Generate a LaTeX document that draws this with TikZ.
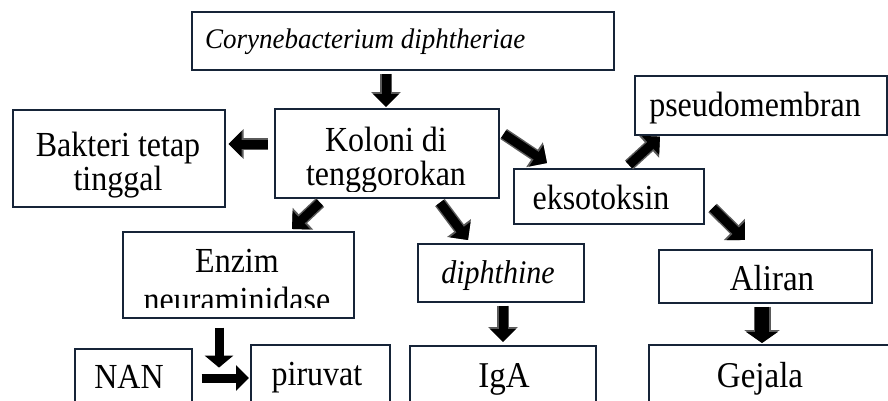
\documentclass[tikz,border=0pt]{standalone}
\usepackage{fontspec}
\usepackage{graphicx}
\setmainfont{Liberation Serif}
\usetikzlibrary{arrows.meta,calc}
\definecolor{boxcol}{RGB}{22,36,56}
\definecolor{arrowgray}{RGB}{90,90,90}
\newcommand\blockarr[2]{%
  \draw[gshaft] #1 -- #2;
  \draw[bshaft] #1 -- #2;}
\newcommand\vs[1]{\scalebox{1}[1.1]{#1}}
\newcommand\twolines[3]{\vs{\fontsize{32}{#3}\selectfont\begin{tabular}[t]{@{}c@{}}#1\\#2\end{tabular}}}
\begin{document}
\begin{tikzpicture}[x=1pt,y=-1pt,
  box/.style={draw=boxcol, line width=1.6pt, fill=none, inner sep=0pt, anchor=north west},
  txt/.style={font=\fontsize{32}{36}\selectfont, inner sep=0pt, anchor=base},
  gshaft/.style={draw=arrowgray, line width=12pt, -{Triangle[width=29pt,length=15pt]}},
  bshaft/.style={draw=black, line width=9pt, -{Triangle[width=25pt,length=13pt]}},
  plainarrow/.style={draw=black, line width=9pt, -{Triangle[width=28pt,length=12pt]}}
]
\clip (0,0) rectangle (888,400);
\fill[white] (0,0) rectangle (888,400);

% boxes
\node[box, minimum width=422pt, minimum height=58pt] (coryne) at (191,11) {};
\node[box, minimum width=212pt, minimum height=97pt] (bakteri) at (12,109) {};
\node[box, minimum width=224pt, minimum height=89pt] (koloni) at (274,108) {};
\node[box, minimum width=252pt, minimum height=59pt] (pseudo) at (634,75) {};
\node[box, minimum width=190pt, minimum height=55pt] (ekso) at (513,168) {};
\node[box, minimum width=231pt, minimum height=86pt] (enzim) at (122,231) {};
\node[box, minimum width=166pt, minimum height=58pt] (diph) at (417,243) {};
\node[box, minimum width=213pt, minimum height=53pt] (aliran) at (658,249) {};
\node[box, minimum width=117pt, minimum height=80pt] (nan) at (74,348) {};
\node[box, minimum width=139pt, minimum height=80pt] (piruvat) at (250,344) {};
\node[box, minimum width=186pt, minimum height=80pt] (iga) at (409,345) {};
\node[box, minimum width=260pt, minimum height=80pt] (gejala) at (648,344) {};

% texts
\node[txt, anchor=base west, font=\fontsize{27}{30}\selectfont\itshape] (tcoryne) at (205,48) {\scalebox{1}[1.05]{Corynebacterium diphtheriae}};
\node[txt] (tbak) at (118,156) {\twolines{Bakteri tetap}{tinggal}{29}};
\begin{scope}
  \clip (274,108) rectangle (498,191);
  \node[txt] (tkol) at (386,151) {\twolines{Koloni di}{tenggorokan}{31}};
\end{scope}
\node[txt] (tpseudo) at (755,116) {\vs{pseudomembran}};
\node[txt] (tekso) at (601,209) {\vs{eksotoksin}};
\node[txt] (tenz1) at (237,272) {\vs{Enzim}};
\begin{scope}
  \clip (122,231) rectangle (353,307);
  \node[txt] (tenz2) at (237,311) {\vs{neuraminidase}};
\end{scope}
\node[txt, font=\fontsize{30}{34}\selectfont\itshape] (tdiph) at (498,283) {\vs{diphthine}};
\node[txt, font=\fontsize{33}{36}\selectfont] (taliran) at (772,290) {\vs{Aliran}};
\node[txt] (tnan) at (129,388) {\vs{NAN}};
\node[txt] (tpiruvat) at (317,385) {\vs{piruvat}};
\node[txt, font=\fontsize{33}{36}\selectfont] (tiga) at (504,387) {\vs{IgA}};
\node[txt, font=\fontsize{33}{36}\selectfont] (tgejala) at (760,387) {\vs{Gejala}};

\coordinate (enzimtip) at ($(enzim.south west)+(97,49)$);

% outlined block arrows
\blockarr{($(coryne.south west)+(195,3)$)}{($(koloni.north west)+(112,-1)$)}
\blockarr{($(koloni.north west)+(-6,36)$)}{($(bakteri.north east)+(3,35)$)}
\blockarr{($(koloni.north east)+(4,26)$)}{($(ekso.north west)+(34,-5)$)}
\blockarr{($(ekso.north west)+(116,-3)$)}{($(pseudo.south west)+(26,1)$)}
\blockarr{($(ekso.north east)+(8,40)$)}{($(aliran.north west)+(87,-9)$)}
\blockarr{($(koloni.south west)+(46,4)$)}{($(enzim.north west)+(170,-2)$)}
\blockarr{($(koloni.south west)+(166,4)$)}{($(diph.north west)+(51,-3)$)}
\blockarr{($(diph.south west)+(86,3)$)}{($(iga.north west)+(94,-3)$)}

% wide arrow Aliran -> Gejala
\draw[draw=arrowgray, line width=17pt, -{Triangle[width=35pt,length=13pt]}] ($(aliran.south west)+(104,3)$) -- ($(gejala.north west)+(114,-1)$);
\draw[draw=black, line width=14pt, -{Triangle[width=31pt,length=11pt]}] ($(aliran.south west)+(104,3)$) -- ($(gejala.north west)+(114,-1)$);

% plain black arrows
\draw[plainarrow] ($(enzim.south west)+(97,9)$) -- (enzimtip);
\draw[draw=black, line width=9pt, -{Triangle[width=25pt,length=13pt]}] ($(nan.north east)+(9,30)$) -- ($(piruvat.north west)+(-1,34)$);
\end{tikzpicture}
\end{document}
